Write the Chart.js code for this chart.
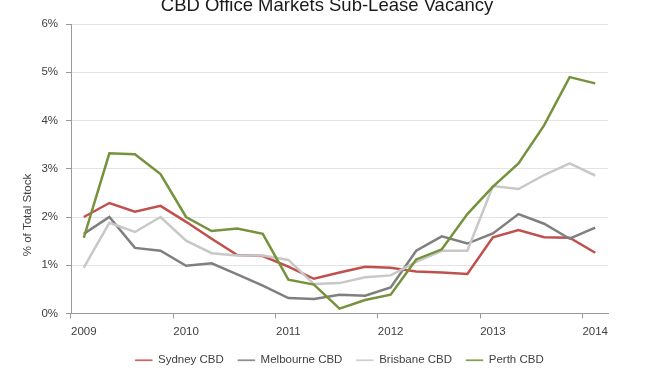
<!DOCTYPE html>
<html>
<head>
<meta charset="utf-8">
<script src="https://cdn.jsdelivr.net/npm/chart.js@4/dist/chart.umd.min.js"></script>
<style>
  html, body { margin: 0; padding: 0; background: #fff; }
  #wrap { width: 662px; height: 373px; }
</style>
</head>
<body>
<div id="wrap"><canvas id="myChart" width="662" height="373"></canvas></div>
<script>
// quarterly, Q1 2009 .. Q1 2014
const quarters = ['2009', '', '', '', '2010', '', '', '', '2011', '', '', '', '2012', '', '', '', '2013', '', '', '', '2014'];
const yTicks = [0, 1, 2, 3, 4, 5, 6];

const sydney    = [2.00, 2.29, 2.11, 2.23, 1.90, 1.55, 1.21, 1.19, 0.97, 0.72, 0.85, 0.97, 0.95, 0.87, 0.85, 0.82, 1.58, 1.73, 1.58, 1.57, 1.26];
const melbourne = [1.65, 2.00, 1.36, 1.30, 0.99, 1.04, 0.81, 0.58, 0.32, 0.30, 0.39, 0.37, 0.54, 1.30, 1.60, 1.45, 1.66, 2.06, 1.86, 1.55, 1.78];
const brisbane  = [0.95, 1.88, 1.69, 2.00, 1.51, 1.25, 1.20, 1.20, 1.11, 0.61, 0.63, 0.75, 0.79, 1.07, 1.30, 1.30, 2.64, 2.58, 2.87, 3.11, 2.86];
const perth     = [1.57, 3.32, 3.30, 2.89, 2.00, 1.71, 1.76, 1.65, 0.70, 0.60, 0.10, 0.28, 0.39, 1.12, 1.33, 2.06, 2.63, 3.11, 3.90, 4.90, 4.77];

const seriesNames = ['Sydney CBD', 'Melbourne CBD', 'Brisbane CBD', 'Perth CBD'];
const seriesColors = ['#c0504d', '#7f7f7f', '#c8c8c8', '#76923c'];

const textColor = '#404040';
const font = 'Liberation Sans, Arial, sans-serif';

function makeSet(i, values) {
    return {
        label: seriesNames[i],
        data: values,
        borderColor: seriesColors[i],
        backgroundColor: seriesColors[i],
        borderWidth: 2.5,
        pointRadius: 0,
        tension: 0,
        order: 3 - i   // later series on top, like the original
    };
}

// title (cut off at the top) and the y-axis caption
const extraText = {
    id: 'extraText',
    afterDraw(chart) {
        const c = chart.ctx;
        c.save();
        c.fillStyle = '#1a1a1a';
        c.font = '18.5px ' + font;
        c.textAlign = 'center';
        c.textBaseline = 'alphabetic';
        c.fillText('CBD Office Markets Sub-Lease Vacancy', 327, 11);
        c.fillStyle = textColor;
        c.font = '11.5px ' + font;
        c.translate(28, 215);
        c.rotate(-Math.PI / 2);
        c.textBaseline = 'middle';
        c.fillText('% of Total Stock', 0, 0);
        c.restore();
    }
};

const ctx = document.getElementById('myChart').getContext('2d');
const myChart = new Chart(ctx, {
    type: 'line',
    data: {
        labels: quarters,
        datasets: [makeSet(0, sydney), makeSet(1, melbourne), makeSet(2, brisbane), makeSet(3, perth)]
    },
    options: {
        responsive: false,
        animation: false,
        layout: { padding: { left: 0, right: 54, top: 24, bottom: -3 } },
        scales: {
            x: {
                type: 'category',
                offset: true,
                afterFit: s => { s.height = 27; },
                grid: {
                    offset: true,
                    drawOnChartArea: false,
                    tickLength: 5,
                    tickColor: c => (c.index % 4 === 0 ? '#999' : 'rgba(0,0,0,0)')
                },
                border: { color: '#999', width: 1 },
                ticks: {
                    autoSkip: false,
                    maxRotation: 0,
                    padding: 6,
                    color: textColor,
                    font: { family: font, size: 11.5 }
                }
            },
            y: {
                min: 0,
                max: 6,
                afterFit: s => { s.width = 71; },
                afterBuildTicks: s => { s.ticks = yTicks.map(v => ({ value: v })); },
                grid: { color: '#e3e3e3', tickColor: '#999', tickLength: 5 },
                border: { color: '#999', width: 1 },
                ticks: {
                    padding: 8,
                    color: textColor,
                    font: { family: font, size: 11.5 },
                    callback: v => v + '%'
                }
            }
        },
        plugins: {
            legend: {
                position: 'bottom',
                fullSize: false,
                labels: {
                    boxWidth: 17,
                    boxHeight: 1,
                    padding: 14,
                    color: textColor,
                    font: { family: font, size: 11.5 },
                    generateLabels: chart => Chart.defaults.plugins.legend.labels.generateLabels(chart)
                        .map(l => Object.assign(l, { lineWidth: 0.5 })),
                    sort: (a, b) => a.datasetIndex - b.datasetIndex
                }
            },
            tooltip: { enabled: false }
        }
    },
    plugins: [extraText]
});
</script>
</body>
</html>
